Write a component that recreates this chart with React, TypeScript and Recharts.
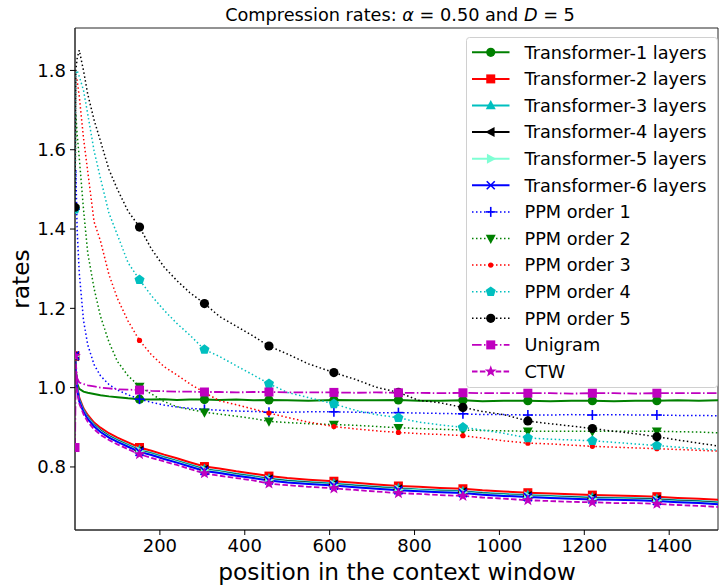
import React from 'react';
import { LineChart, Line, XAxis, YAxis, Legend, ReferenceArea } from 'recharts';

const FONT = "'DejaVu Sans', sans-serif";

// positions in the context window (x values of the sampled points)
const POSITIONS = [0, 2, 5, 10, 20, 30, 45, 60, 80, 100, 125, 152, 180, 210, 240, 270, 305, 340, 380, 420, 457, 500, 550, 610, 660, 710, 762, 810, 860, 914, 960, 1010, 1067, 1120, 1170, 1219, 1270, 1320, 1371, 1420, 1470, 1515];
// positions where a marker is drawn
const MARK_POSITIONS = [0, 152, 305, 457, 610, 762, 914, 1067, 1219, 1371];

const X_TICKS = [200, 400, 600, 800, 1000, 1200, 1400];
const Y_TICKS = [0.8, 1.0, 1.2, 1.4, 1.6, 1.8];

const T1 = [1.080, 1.040, 1.010, 0.997, 0.990, 0.987, 0.984, 0.981, 0.978, 0.976, 0.973, 0.971, 0.970, 0.971, 0.969, 0.970, 0.970, 0.969, 0.970, 0.968, 0.969, 0.968, 0.967, 0.969, 0.968, 0.968, 0.969, 0.967, 0.967, 0.968, 0.966, 0.967, 0.967, 0.966, 0.967, 0.967, 0.966, 0.967, 0.967, 0.968, 0.967, 0.968];
const T2 = [1.080, 1.046, 1.005, 0.975, 0.948, 0.931, 0.912, 0.899, 0.885, 0.874, 0.862, 0.849, 0.841, 0.831, 0.822, 0.812, 0.801, 0.796, 0.789, 0.783, 0.777, 0.772, 0.768, 0.764, 0.760, 0.756, 0.752, 0.750, 0.747, 0.745, 0.741, 0.738, 0.735, 0.733, 0.731, 0.729, 0.728, 0.727, 0.725, 0.722, 0.720, 0.717];
const T3 = [1.080, 1.044, 1.002, 0.971, 0.944, 0.926, 0.907, 0.893, 0.879, 0.868, 0.856, 0.843, 0.835, 0.825, 0.816, 0.806, 0.795, 0.790, 0.783, 0.777, 0.771, 0.766, 0.762, 0.758, 0.754, 0.750, 0.746, 0.743, 0.741, 0.739, 0.735, 0.732, 0.729, 0.727, 0.725, 0.723, 0.722, 0.721, 0.719, 0.716, 0.714, 0.711];
const T4 = [1.079, 1.043, 1.000, 0.969, 0.942, 0.924, 0.905, 0.891, 0.877, 0.866, 0.854, 0.841, 0.833, 0.823, 0.814, 0.804, 0.793, 0.788, 0.781, 0.775, 0.769, 0.764, 0.760, 0.756, 0.752, 0.748, 0.744, 0.742, 0.739, 0.737, 0.733, 0.730, 0.727, 0.725, 0.723, 0.721, 0.720, 0.719, 0.717, 0.714, 0.712, 0.709];
const T5 = [1.080, 1.042, 0.999, 0.968, 0.941, 0.923, 0.904, 0.890, 0.876, 0.865, 0.853, 0.840, 0.832, 0.822, 0.813, 0.803, 0.792, 0.787, 0.780, 0.774, 0.768, 0.763, 0.759, 0.755, 0.751, 0.747, 0.743, 0.741, 0.738, 0.736, 0.732, 0.729, 0.726, 0.724, 0.722, 0.720, 0.719, 0.718, 0.716, 0.713, 0.711, 0.708];
const T6 = [1.081, 1.041, 0.997, 0.966, 0.939, 0.921, 0.902, 0.888, 0.874, 0.863, 0.851, 0.838, 0.830, 0.820, 0.811, 0.801, 0.790, 0.785, 0.778, 0.772, 0.766, 0.761, 0.757, 0.753, 0.749, 0.745, 0.741, 0.739, 0.736, 0.734, 0.730, 0.727, 0.724, 0.722, 0.720, 0.718, 0.717, 0.716, 0.714, 0.711, 0.709, 0.706];
const PPM1 = [1.450, 1.550, 1.400, 1.290, 1.170, 1.108, 1.058, 1.030, 1.008, 0.994, 0.982, 0.971, 0.963, 0.956, 0.951, 0.948, 0.945, 0.943, 0.941, 0.940, 0.938, 0.938, 0.939, 0.939, 0.938, 0.937, 0.937, 0.936, 0.935, 0.934, 0.932, 0.932, 0.931, 0.931, 0.932, 0.931, 0.932, 0.931, 0.931, 0.930, 0.930, 0.929];
const PPM2 = [1.450, 1.690, 1.640, 1.580, 1.450, 1.340, 1.250, 1.180, 1.115, 1.066, 1.030, 1.003, 0.984, 0.965, 0.952, 0.945, 0.938, 0.933, 0.928, 0.922, 0.915, 0.912, 0.909, 0.907, 0.905, 0.902, 0.899, 0.897, 0.895, 0.893, 0.892, 0.891, 0.890, 0.890, 0.890, 0.890, 0.890, 0.890, 0.890, 0.889, 0.888, 0.886];
const PPM3 = [1.450, 1.785, 1.775, 1.735, 1.630, 1.545, 1.418, 1.370, 1.285, 1.225, 1.168, 1.119, 1.083, 1.053, 1.032, 1.010, 0.988, 0.967, 0.957, 0.946, 0.936, 0.925, 0.913, 0.902, 0.896, 0.891, 0.887, 0.884, 0.882, 0.879, 0.873, 0.866, 0.860, 0.858, 0.855, 0.852, 0.850, 0.848, 0.846, 0.844, 0.842, 0.840];
const PPM4 = [1.450, 1.790, 1.800, 1.785, 1.750, 1.690, 1.597, 1.528, 1.440, 1.385, 1.315, 1.272, 1.232, 1.195, 1.162, 1.133, 1.096, 1.079, 1.055, 1.032, 1.010, 0.988, 0.975, 0.959, 0.943, 0.932, 0.924, 0.913, 0.906, 0.900, 0.893, 0.885, 0.873, 0.870, 0.868, 0.866, 0.862, 0.858, 0.854, 0.850, 0.846, 0.842];
const PPM5 = [1.455, 1.800, 1.830, 1.851, 1.800, 1.740, 1.675, 1.622, 1.550, 1.500, 1.445, 1.405, 1.350, 1.304, 1.270, 1.240, 1.212, 1.180, 1.155, 1.130, 1.105, 1.085, 1.060, 1.038, 1.021, 1.001, 0.988, 0.968, 0.962, 0.950, 0.940, 0.932, 0.916, 0.909, 0.903, 0.897, 0.890, 0.884, 0.876, 0.868, 0.860, 0.853];
const UNIGRAM = [0.849, 1.060, 1.024, 1.013, 1.009, 1.006, 1.003, 1.000, 0.998, 0.996, 0.995, 0.994, 0.992, 0.991, 0.990, 0.990, 0.989, 0.989, 0.988, 0.989, 0.989, 0.988, 0.988, 0.988, 0.987, 0.988, 0.987, 0.987, 0.986, 0.987, 0.986, 0.986, 0.986, 0.986, 0.985, 0.986, 0.986, 0.985, 0.986, 0.986, 0.986, 0.986];
const CTW = [1.080, 1.038, 0.992, 0.960, 0.933, 0.914, 0.895, 0.881, 0.868, 0.857, 0.845, 0.832, 0.823, 0.814, 0.805, 0.795, 0.784, 0.778, 0.772, 0.766, 0.758, 0.754, 0.750, 0.746, 0.742, 0.738, 0.734, 0.732, 0.729, 0.727, 0.723, 0.720, 0.716, 0.714, 0.712, 0.711, 0.709, 0.709, 0.707, 0.704, 0.702, 0.699];

const SOLID = undefined;
const DOTTED = '1.5 2.5';
const DASHDOT = '9.6 2.4 1.5 2.4';
const DASHED = '5.5 2.4';

const SERIES = [
  { key: 't1', name: 'Transformer-1 layers', values: T1, color: '#008000', dash: SOLID, width: 2, marker: 'o' },
  { key: 't2', name: 'Transformer-2 layers', values: T2, color: '#ff0000', dash: SOLID, width: 2, marker: 's' },
  { key: 't3', name: 'Transformer-3 layers', values: T3, color: '#00bfbf', dash: SOLID, width: 2, marker: '^' },
  { key: 't4', name: 'Transformer-4 layers', values: T4, color: '#000000', dash: SOLID, width: 2, marker: '<' },
  { key: 't5', name: 'Transformer-5 layers', values: T5, color: '#7fffd4', dash: SOLID, width: 2, marker: '>' },
  { key: 't6', name: 'Transformer-6 layers', values: T6, color: '#0000ff', dash: SOLID, width: 2, marker: 'x' },
  { key: 'p1', name: 'PPM order 1', values: PPM1, color: '#0000ff', dash: DOTTED, width: 1.5, marker: '+' },
  { key: 'p2', name: 'PPM order 2', values: PPM2, color: '#008000', dash: DOTTED, width: 1.5, marker: 'v' },
  { key: 'p3', name: 'PPM order 3', values: PPM3, color: '#ff0000', dash: DOTTED, width: 1.5, marker: '.' },
  { key: 'p4', name: 'PPM order 4', values: PPM4, color: '#00bfbf', dash: DOTTED, width: 1.5, marker: 'p' },
  { key: 'p5', name: 'PPM order 5', values: PPM5, color: '#000000', dash: DOTTED, width: 1.5, marker: 'o' },
  { key: 'uni', name: 'Unigram', values: UNIGRAM, color: '#bf00bf', dash: DASHDOT, width: 1.8, marker: 's' },
  { key: 'ctw', name: 'CTW', values: CTW, color: '#bf00bf', dash: DASHED, width: 1.8, marker: '*' },
];

const rows = POSITIONS.map((x, i) => {
  const r: Record<string, number> = { x };
  SERIES.forEach((s) => { r[s.key] = s.values[i]; });
  return r;
});

const MARK_SET = new Set(MARK_POSITIONS);

function polyPoints(cx: number, cy: number, n: number, rOuter: number, rInner?: number) {
  const pts: string[] = [];
  const count = rInner ? n * 2 : n;
  for (let k = 0; k < count; k++) {
    const r = rInner ? (k % 2 === 0 ? rOuter : rInner) : rOuter;
    const a = -Math.PI / 2 + (k * 2 * Math.PI) / count;
    pts.push(`${cx + r * Math.cos(a)},${cy + r * Math.sin(a)}`);
  }
  return pts.join(' ');
}

function Marker({ shape, cx, cy, color }: { shape: string; cx: number; cy: number; color: string }) {
  switch (shape) {
    case 'o':
      return <circle cx={cx} cy={cy} r={4.6} fill={color} />;
    case 's':
      return <rect x={cx - 4.5} y={cy - 4.5} width={9} height={9} fill={color} />;
    case '^':
      return <polygon points={`${cx},${cy - 5.5} ${cx - 5},${cy + 3.8} ${cx + 5},${cy + 3.8}`} fill={color} />;
    case 'v':
      return <polygon points={`${cx},${cy + 5.5} ${cx - 5},${cy - 3.8} ${cx + 5},${cy - 3.8}`} fill={color} />;
    case '<':
      return <polygon points={`${cx - 5.5},${cy} ${cx + 3.8},${cy - 5} ${cx + 3.8},${cy + 5}`} fill={color} />;
    case '>':
      return <polygon points={`${cx + 5.5},${cy} ${cx - 3.8},${cy - 5} ${cx - 3.8},${cy + 5}`} fill={color} />;
    case 'x':
      return (
        <g stroke={color} strokeWidth={1.6}>
          <line x1={cx - 4} y1={cy - 4} x2={cx + 4} y2={cy + 4} />
          <line x1={cx - 4} y1={cy + 4} x2={cx + 4} y2={cy - 4} />
        </g>
      );
    case '+':
      return (
        <g stroke={color} strokeWidth={1.6}>
          <line x1={cx - 5} y1={cy} x2={cx + 5} y2={cy} />
          <line x1={cx} y1={cy - 5} x2={cx} y2={cy + 5} />
        </g>
      );
    case '.':
      return <circle cx={cx} cy={cy} r={2.6} fill={color} />;
    case 'p':
      return <polygon points={polyPoints(cx, cy, 5, 5.3)} fill={color} />;
    case '*':
      return <polygon points={polyPoints(cx, cy, 5, 6.2, 2.6)} fill={color} />;
    default:
      return null;
  }
}

function makeDot(shape: string, color: string) {
  return (props: any) => {
    const { cx, cy, index, payload } = props;
    if (!payload || !MARK_SET.has(payload.x) || cx == null || cy == null) {
      return <g key={`e-${index}`} />;
    }
    return (
      <g key={`m-${index}`}>
        <Marker shape={shape} cx={cx} cy={cy} color={color} />
      </g>
    );
  };
}

const LEG_W = 252;
const LEG_H = 351;
const LEG_ROW0 = 15.3;
const LEG_STEP = 26.6;

function renderLegend() {
  return (
    <svg width={LEG_W} height={LEG_H} style={{ display: 'block' }}>
      <rect x={0.5} y={0.5} width={LEG_W - 1} height={LEG_H - 1} rx={3} ry={3} fill="#ffffff" fillOpacity={0.8} stroke="#d0d0d0" strokeWidth={1} />
      {SERIES.map((s, i) => {
        const y = LEG_ROW0 + i * LEG_STEP;
        return (
          <g key={s.key}>
            <line x1={6} y1={y} x2={43.5} y2={y} stroke={s.color} strokeWidth={s.width} strokeDasharray={s.dash} />
            <Marker shape={s.marker} cx={24.75} cy={y} color={s.color} />
            <text x={58.5} y={y} dy="0.36em" fontFamily={FONT} fontSize={17.7} fill="#000">{s.name}</text>
          </g>
        );
      })}
    </svg>
  );
}

const renderXLabel = () => (
  <text x={397} y={580} textAnchor="middle" fontFamily={FONT} fontSize={23.3} fill="#000">position in the context window</text>
);

const renderYLabel = () => (
  <text x={29} y={279} transform="rotate(-90 29 279)" textAnchor="middle" fontFamily={FONT} fontSize={23.3} fill="#000">rates</text>
);

export default function App() {
  return (
    <div style={{ position: 'absolute', left: 0, top: 0, background: '#fff' }}>
      <LineChart width={719} height={586} data={rows} margin={{ top: 28, right: 1, bottom: 0, left: 0 }}>
        <text x={400} y={21} textAnchor="middle" fontFamily={FONT} fontSize={17.7} fill="#000">
          Compression rates: <tspan fontStyle="italic">α</tspan> = 0.50 and <tspan fontStyle="italic">D</tspan> = 5
        </text>
        <XAxis
          dataKey="x"
          type="number"
          domain={[0, 1515]}
          ticks={X_TICKS}
          allowDataOverflow
          height={56}
          tickSize={5}
          tickMargin={4}
          tick={{ fontSize: 18, fill: '#000', fontFamily: FONT }}
          tickLine={{ stroke: '#000' }}
          axisLine={{ stroke: '#262626' }}
          label={renderXLabel}
        />
        <YAxis
          type="number"
          domain={[0.641, 1.907]}
          ticks={Y_TICKS}
          allowDataOverflow
          width={75}
          tickSize={5}
          tickMargin={4}
          tickFormatter={(v: number) => v.toFixed(1)}
          tick={{ fontSize: 18, fill: '#000', fontFamily: FONT }}
          tickLine={{ stroke: '#000' }}
          axisLine={{ stroke: '#262626' }}
          label={renderYLabel}
        />
        <ReferenceArea x1={0} x2={1515} y1={0.641} y2={1.907} fill="none" fillOpacity={0} stroke="#262626" strokeWidth={1} ifOverflow="visible" />
        {SERIES.map((s) => (
          <Line
            key={s.key}
            dataKey={s.key}
            name={s.name}
            type="linear"
            stroke={s.color}
            strokeWidth={s.width}
            strokeDasharray={s.dash}
            dot={makeDot(s.marker, s.color)}
            activeDot={false}
            isAnimationActive={false}
          />
        ))}
        <Legend
          layout="vertical"
          align="center"
          verticalAlign="middle"
          content={renderLegend}
          wrapperStyle={{ left: 466, top: 37, width: LEG_W, height: LEG_H }}
        />
      </LineChart>
    </div>
  );
}
